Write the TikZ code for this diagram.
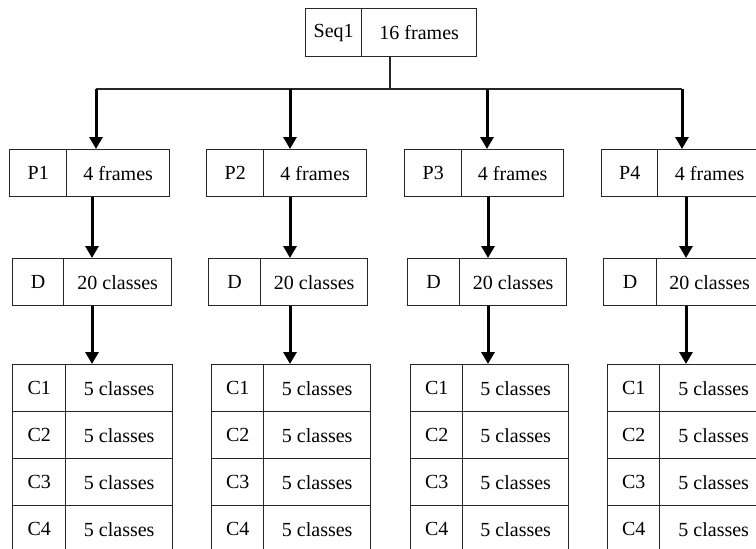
\documentclass[tikz,border=0pt]{standalone}
\usepackage{fontspec}
\setmainfont{Liberation Serif}
\usetikzlibrary{arrows.meta}
\tikzset{
  cell/.style={draw=black!85, line width=1.4pt, minimum height=47pt, inner sep=0pt,
    anchor=north west, font=\fontsize{20}{22}\selectfont},
  flow/.style={line width=3pt, -{Triangle[length=12pt,width=13pt]}},
  bus/.style={line width=1.4pt, draw=black!85}
}
\begin{document}
\begin{tikzpicture}[x=1pt,y=-1pt]
\useasboundingbox (0,0) rectangle (756,549);
\clip (0,0) rectangle (756,549);
% root box
\node[cell, minimum width=56pt, minimum height=48pt] (s-l) at (305,8) {Seq1};
\node[cell, minimum width=115pt, minimum height=48pt] (s-r) at (361,8) {16 frames};
\coordinate (stem) at (390,89);
\coordinate (busL) at (96,89);
\coordinate (busR) at (682,89);
\draw[bus] (s-r.south -| stem) -- (stem);
\draw[bus] (busL) -- (busR);
% four columns: part box, D box, table of C rows
\foreach \i/\pl/\pd/\pr/\dl/\dd/\dr/\cl/\cd/\cr/\ain/\adn in {
  1/9/66/169/12/63/171/12/65/172/96/92,
  2/206/263/366/208/260/367/211/263/370/290/290,
  3/404/461/563/407/459/566/410/462/568/487/488,
  4/601/657/761/603/656/762/607/659/767/682/686}{
  \pgfmathsetmacro\wpl{\pd-\pl}
  \pgfmathsetmacro\wpr{\pr-\pd}
  \pgfmathsetmacro\wdl{\dd-\dl}
  \pgfmathsetmacro\wdr{\dr-\dd}
  \pgfmathsetmacro\wcl{\cd-\cl}
  \pgfmathsetmacro\wcr{\cr-\cd}
  \node[cell, minimum width=\wpl pt] (p\i-l) at (\pl,149) {P\i};
  \node[cell, minimum width=\wpr pt] (p\i-r) at (\pd,149) {4 frames};
  \node[cell, minimum width=\wdl pt] (d\i-l) at (\dl,258) {D};
  \node[cell, minimum width=\wdr pt] (d\i-r) at (\dd,258) {20 classes};
  \foreach \j in {1,...,4}{
    \pgfmathsetmacro\cy{364+47*(\j-1)}
    \node[cell, minimum width=\wcl pt] (c\i-\j-l) at (\cl,\cy) {C\j};
    \node[cell, minimum width=\wcr pt] (c\i-\j-r) at (\cd,\cy) {5 classes};
  }
  \coordinate (in\i) at (\ain,89);
  \coordinate (dn\i) at (\adn,0);
  \draw[flow] (in\i) -- (in\i |- p\i-l.north);
  \draw[flow] (dn\i |- p\i-l.south) -- (dn\i |- d\i-l.north);
  \draw[flow] (dn\i |- d\i-l.south) -- (dn\i |- c\i-1-l.north);
}
\end{tikzpicture}
\end{document}
